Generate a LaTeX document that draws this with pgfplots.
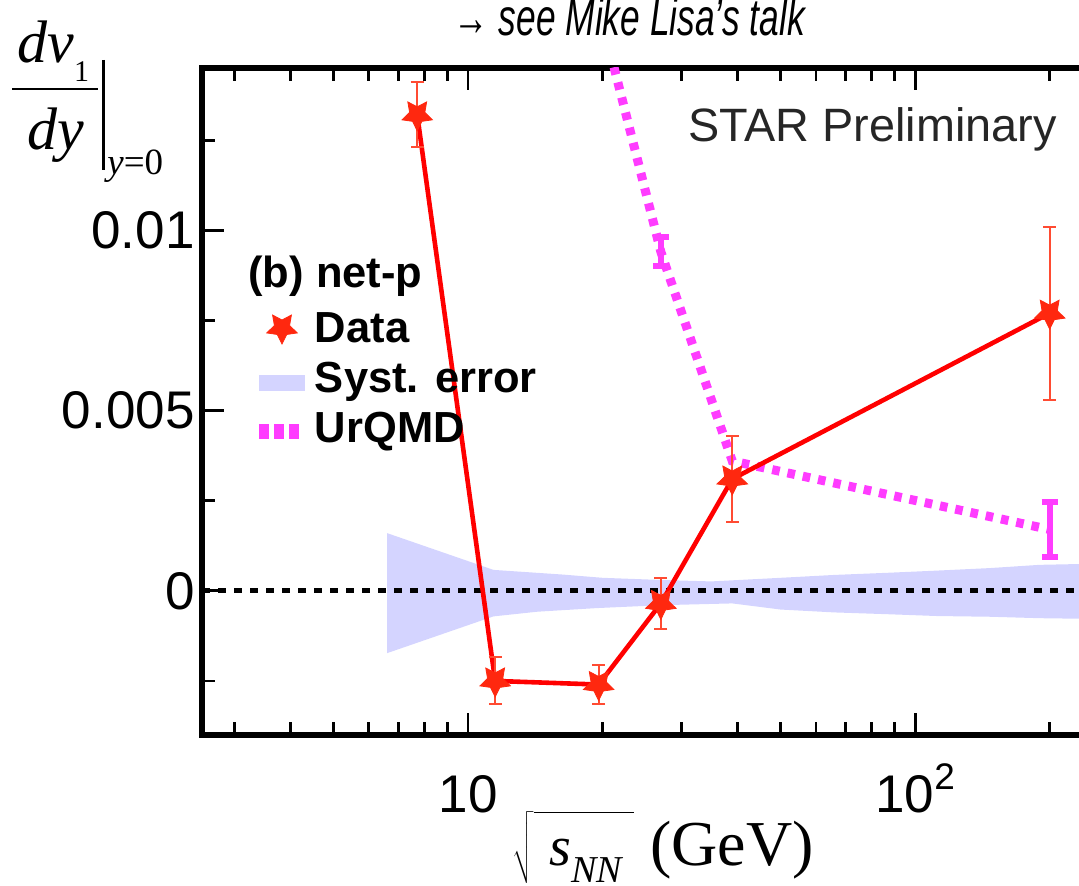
\RequirePackage{fix-cm}
\documentclass[border=0pt]{standalone}
\usepackage{fontspec}
\setmainfont{Liberation Serif}
\setsansfont{Liberation Sans}
\usepackage{pgfplots}
\usepackage{pgfplotstable}
\pgfplotsset{compat=1.18}

\definecolor{datared}{RGB}{255,40,15}
\definecolor{errred}{RGB}{255,75,50}
\definecolor{linered}{RGB}{255,0,0}
\definecolor{urqmd}{RGB}{255,60,255}
\definecolor{syst}{RGB}{212,212,255}

% filled five-pointed star, one point down
\pgfdeclareplotmark{invstar}{%
  \pgfpathmoveto{\pgfpointpolar{270}{\pgfplotmarksize}}%
  \pgfpathlineto{\pgfpointpolar{306}{0.5\pgfplotmarksize}}%
  \pgfpathlineto{\pgfpointpolar{342}{\pgfplotmarksize}}%
  \pgfpathlineto{\pgfpointpolar{18}{0.5\pgfplotmarksize}}%
  \pgfpathlineto{\pgfpointpolar{54}{\pgfplotmarksize}}%
  \pgfpathlineto{\pgfpointpolar{90}{0.5\pgfplotmarksize}}%
  \pgfpathlineto{\pgfpointpolar{126}{\pgfplotmarksize}}%
  \pgfpathlineto{\pgfpointpolar{162}{0.5\pgfplotmarksize}}%
  \pgfpathlineto{\pgfpointpolar{198}{\pgfplotmarksize}}%
  \pgfpathlineto{\pgfpointpolar{234}{0.5\pgfplotmarksize}}%
  \pgfpathclose
  \pgfusepathqfillstroke
}

% net-proton dv1/dy slope: energy, value, stat. error
\pgfplotstableread{
x      y         e
7.7    0.0132    0.0009
11.5  -0.0025    0.00065
19.6  -0.0026    0.00055
27    -0.00035   0.0007
39     0.0031    0.0012
200    0.0077    0.0024
}\netp

% UrQMD curve
\pgfplotstableread{
x      y
19.6   0.0162
27     0.0094
39     0.0036
200    0.0017
}\urq

% UrQMD points with visible errors
\pgfplotstableread{
x      y        e
27     0.0094   0.0004
200    0.0017   0.00075
}\urqerr

% systematic error band (upper edge, then lower edge backwards)
\pgfplotstableread{
x      y
6.59   0.0016
11.4   0.00058
16.3   0.00045
20     0.00036
27     0.00030
35     0.00026
50     0.00036
66     0.00044
87     0.00050
112    0.00056
147    0.00063
190    0.00072
250    0.00075
250   -0.00078
190   -0.00076
147   -0.00072
112   -0.00070
87    -0.00065
66    -0.00060
50    -0.00052
39    -0.00035
27    -0.00040
19.4  -0.00048
14.3  -0.00058
11.4  -0.00071
6.59  -0.00173
}\band

\begin{document}
\begin{tikzpicture}
\begin{axis}[
  at={(101pt,75pt)}, anchor=south west,
  scale only axis, width=445.5pt, height=333.5pt,
  xmode=log, log basis x=10,
  xmin=2.541, xmax=250,
  ymin=-0.004, ymax=0.0145,
  axis line style={line width=2.6pt, black},
  tick style={line width=1.4pt, black},
  major tick length=11pt, minor tick length=6.5pt,
  tick align=inside,
  xtick={10,100},
  xticklabels={10,{10\raisebox{0.42em}{\fontsize{18.5}{20}\selectfont 2}}},
  minor xtick={3,4,5,6,7,8,9,20,30,40,50,60,70,80,90,200},
  ytick={0,0.005,0.01},
  yticklabels={0,0.005,0.01},
  minor ytick={-0.0025,0.0025,0.0075,0.0125},
  scaled y ticks=false,
  ytick pos=left,
  ticklabel style={font=\sffamily\fontsize{26.5}{30}\selectfont},
  xticklabel style={anchor=base, inner sep=0pt, yshift=-38.5pt},
  yticklabel style={anchor=east, inner sep=0pt, xshift=-3.5pt},
  legend style={at={(0.0561,0.6357)}, anchor=north west,
    draw=none, fill=none, inner sep=0pt, outer sep=0pt,
    row sep=4pt, column sep=4pt,
    cells={anchor=base west},
    nodes={inner sep=0pt, text height=16pt, text depth=5pt},
    font=\sffamily\bfseries\fontsize{21.75}{24}\selectfont},
]
% systematic band
\addplot[fill=syst, draw=none, forget plot] table {\band} -- cycle;
% zero line
\addplot[black, line width=2.5pt, dash pattern=on 4pt off 4pt, forget plot]
  coordinates {(2.541,0) (250,0)};
% UrQMD
\addplot[urqmd, line width=4.5pt, dash pattern=on 3.8pt off 4pt, forget plot]
  table {\urq};
\addplot[draw=none, mark=none, forget plot,
  error bars/.cd, y dir=both, y explicit,
  error bar style={draw=urqmd, line width=3pt, solid},
  error mark options={draw=urqmd, line width=3pt, mark size=4pt, rotate=90}]
  table[y error=e] {\urqerr};
% data
\addplot[linered, line width=2.3pt, forget plot] table {\netp};
\addplot[only marks, mark=invstar, mark size=8pt,
  mark options={fill=datared, draw=datared, line width=0.4pt}, forget plot,
  error bars/.cd, y dir=both, y explicit,
  error bar style={draw=errred, line width=1pt},
  error mark options={draw=errred, line width=1pt, mark size=3.25pt, rotate=90}]
  table[y error=e] {\netp};

\addlegendimage{legend image code/.code={%
  \begin{scope}[shift={(11.25pt,7.5pt)}, mark size=8pt]
    \pgfsetfillcolor{datared}\pgfsetstrokecolor{datared}%
    \pgfuseplotmark{invstar}
  \end{scope}}}
\addlegendentry{Data}
\addlegendimage{legend image code/.code={%
  \fill[syst] (0pt,1.5pt) rectangle (22.5pt,9pt);}}
\addlegendentry{Syst. error}
\addlegendimage{legend image code/.code={%
  \draw[urqmd, line width=7.5pt, dash pattern=on 5pt off 2.5pt] (0pt,5.75pt) -- (20pt,5.75pt);}}
\addlegendentry{UrQMD}
\end{axis}

% panel texts
\node[anchor=base west, inner sep=0pt, text=black!85,
  font=\sffamily\fontsize{23.4}{26}\selectfont] at (344pt,371.5pt) {STAR Preliminary};
\node[anchor=base west, inner sep=0pt,
  font=\sffamily\bfseries\fontsize{21.75}{24}\selectfont] at (124pt,299pt) {(b) net-p};
\node[anchor=base east, inner sep=0pt, xscale=0.68,
  font=\sffamily\itshape\fontsize{26}{28}\selectfont] at (402.5pt,424.5pt) {→ see Mike Lisa's talk};

% y-axis title: dv1/dy at y=0
\node[anchor=base west, inner sep=0pt, font=\fontsize{30}{32}\selectfont]
  at (8.5pt,411pt) {\itshape dv\upshape\raisebox{-9.5pt}{\fontsize{15}{16}\selectfont 1}};
\draw[line width=1.4pt] (6pt,398pt) -- (49pt,398pt);
\node[anchor=base west, inner sep=0pt, font=\fontsize{30}{32}\selectfont]
  at (13.5pt,367.5pt) {\itshape dy};
\draw[line width=1.5pt] (51.5pt,412.5pt) -- (51.5pt,357.5pt);
\node[anchor=base west, inner sep=0pt, font=\fontsize{18.5}{20}\selectfont]
  at (53.5pt,355pt) {\itshape y\upshape =0};

% x-axis title
\node[anchor=base west, inner sep=0pt, font=\fontsize{28}{30}\selectfont]
  at (256pt,10pt) {$\sqrt{\rule{0pt}{25pt}\hspace{8pt}\textit{s}\raisebox{-8.5pt}{\fontsize{19}{20}\selectfont\textit{NN}}\hspace{5pt}}$};
\node[anchor=base west, inner sep=0pt, font=\fontsize{32}{34}\selectfont]
  at (325pt,10pt) {(GeV)};

\pgfresetboundingbox
\useasboundingbox (0,0) rectangle (539.5pt,442.5pt);
\end{tikzpicture}
\end{document}
